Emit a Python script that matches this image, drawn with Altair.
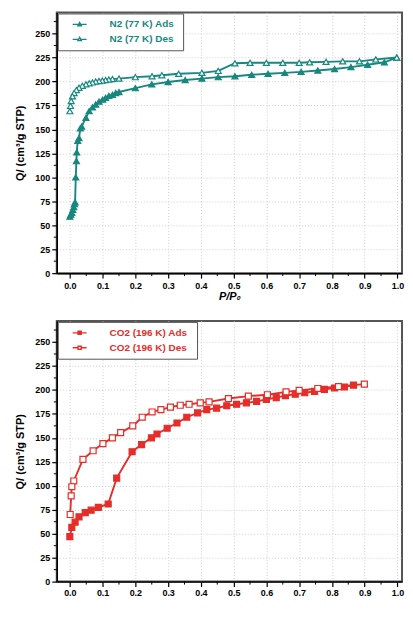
import altair as alt
import pandas as pd

# ---------------- data ----------------
n2_labels = ["N2 (77 K)  Ads", "N2 (77 K) Des"]
n2_ads_x = [0.0, 0.003, 0.006, 0.009, 0.012, 0.014, 0.016, 0.018, 0.020, 0.021, 0.024, 0.028,
            0.032, 0.036, 0.049, 0.059, 0.069, 0.079, 0.089, 0.100, 0.109, 0.119, 0.130, 0.140,
            0.150, 0.200, 0.250, 0.300, 0.352, 0.403, 0.453, 0.504, 0.555, 0.605, 0.656, 0.706,
            0.757, 0.808, 0.858, 0.909, 0.960, 0.998]
n2_ads_y = [59, 61, 63, 66, 69, 72, 74, 100, 117, 126, 138, 141,
            151, 153, 162, 169, 173, 176, 179, 181, 183, 185, 186, 188,
            189, 193, 197, 199.5, 201.5, 203, 204.5, 205.5, 207, 208, 209, 210,
            211.5, 213, 215, 217.5, 220, 225]
n2_des_x = [0.998, 0.934, 0.884, 0.833, 0.782, 0.732, 0.700, 0.650, 0.600, 0.550, 0.504, 0.453,
            0.403, 0.332, 0.281, 0.251, 0.200, 0.150, 0.130, 0.119, 0.109, 0.099, 0.089, 0.079,
            0.069, 0.059, 0.049, 0.038, 0.028, 0.020, 0.013, 0.008, 0.004, 0.002, 0.0]
n2_des_y = [225, 223, 221, 221, 220.5, 220, 219.5, 219.5, 219.5, 219.5, 219, 211,
            209, 208, 206.5, 205.5, 204.5, 203, 202.5, 202, 201.5, 201, 200.5, 200,
            199, 198, 197, 195.5, 193.5, 191, 188, 184.5, 179.5, 174.5, 169]

co2_labels = ["CO2 (196 K)  Ads", "CO2 (196 K)  Des"]
co2_ads_x = [0.0, 0.006, 0.016, 0.028, 0.047, 0.065, 0.087, 0.117, 0.143, 0.190, 0.219, 0.249,
             0.266, 0.297, 0.327, 0.357, 0.390, 0.418, 0.448, 0.479, 0.509, 0.539, 0.570, 0.600,
             0.630, 0.658, 0.688, 0.717, 0.747, 0.777, 0.808, 0.838, 0.866]
co2_ads_y = [47, 56.5, 62, 67.5, 72, 74.5, 77.5, 81, 108, 135.5, 143, 150,
             154, 160, 165.5, 171.5, 176, 179.5, 181, 183.5, 185, 186.5, 188, 190,
             192, 194, 195.5, 197, 198.5, 200.5, 202, 203, 205]
co2_des_x = [0.899, 0.820, 0.757, 0.700, 0.660, 0.603, 0.545, 0.484, 0.425, 0.398, 0.364, 0.337,
             0.307, 0.278, 0.251, 0.221, 0.192, 0.155, 0.130, 0.101, 0.071, 0.040, 0.012, 0.006,
             0.004, 0.001]
co2_des_y = [206, 203.5, 201.5, 199.5, 198, 195, 193.5, 191, 187.5, 186.5, 185, 184,
             182, 179.5, 177, 171.5, 162.5, 155.5, 150, 144, 136.5, 127.5, 105, 99,
             89.5, 70]

x_ticks = [0.0, 0.1, 0.2, 0.3, 0.4, 0.5, 0.6, 0.7, 0.8, 0.9, 1.0]
y_ticks = [0, 25, 50, 75, 100, 125, 150, 175, 200, 225, 250]
x_minor = [0.05, 0.15, 0.25, 0.35, 0.45, 0.55, 0.65, 0.75, 0.85, 0.95]
y_minor = [12.5, 37.5, 62.5, 87.5, 112.5, 137.5, 162.5, 187.5, 212.5, 237.5, 262.5]

TEAL = "#17877f"
RED = "#e52d29"
FONT = "Liberation Sans"
W, H = 347, 262

TRI_PATH = "M-2,0H-0.5M0.5,0H2M0,-0.55L0.5,0.38L-0.5,0.38Z"
SQ_PATH = "M-2,0H-0.45M0.45,0H2M-0.45,-0.45H0.45V0.45H-0.45Z"


def make_df(ax, ay, dx, dy, labels):
    a = pd.DataFrame({"p": ax, "q": ay, "series": labels[0]})
    d = pd.DataFrame({"p": dx, "q": dy, "series": labels[1]})
    return pd.concat([a, d], ignore_index=True)


def panel(df, labels, color, marker, sym_path, x_label_pad):
    xs = alt.Scale(domain=[-0.04, 1.014], nice=False, zero=False)
    ys = alt.Scale(domain=[0, 272], nice=False)
    xaxis = alt.Axis(values=x_ticks, format=".1f", title="P/P₀", titleFontStyle="italic",
                     titlePadding=0, labelPadding=x_label_pad)
    yaxis = alt.Axis(values=y_ticks, title="Q/ (cm³/g STP)")
    legend = alt.Legend(
        title=None, orient="top-left", offset=1, padding=6, rowPadding=5,
        symbolType=sym_path, symbolSize=49, symbolStrokeWidth=1.4,
        symbolStrokeColor=color, symbolOffset=11, labelOffset=25,
        labelColor=color, labelFont=FONT, labelFontSize=10, labelFontWeight="bold",
        strokeColor="#555", fillColor="white", cornerRadius=0,
    )
    sfill = alt.Scale(domain=labels, range=[color, "white"])

    base = alt.Chart(df)
    line = base.mark_line(strokeWidth=1.9, color=color).encode(
        x=alt.X("p:Q", scale=xs, axis=xaxis),
        y=alt.Y("q:Q", scale=ys, axis=yaxis),
        detail="series:N",
    )
    pts = base.mark_point(shape=marker, size=36, strokeWidth=1.2, opacity=1, filled=True,
                          stroke=color).encode(
        x=alt.X("p:Q", scale=xs, axis=xaxis),
        y=alt.Y("q:Q", scale=ys, axis=yaxis),
        fill=alt.Fill("series:N", scale=sfill, legend=legend),
    )
    xm = alt.Chart(pd.DataFrame({"v": x_minor})).mark_rule(color="black", strokeWidth=1).encode(
        x=alt.X("v:Q", scale=xs, axis=xaxis), y=alt.value(H), y2=alt.value(H + 3))
    ym = alt.Chart(pd.DataFrame({"v": y_minor})).mark_rule(color="black", strokeWidth=1).encode(
        y=alt.Y("v:Q", scale=ys, axis=yaxis), x=alt.value(0), x2=alt.value(-3))
    return alt.layer(line, pts, xm, ym).properties(width=W, height=H)


top = panel(make_df(n2_ads_x, n2_ads_y, n2_des_x, n2_des_y, n2_labels), n2_labels, TEAL,
            "triangle-up", TRI_PATH, 3)
bottom = panel(make_df(co2_ads_x, co2_ads_y, co2_des_x, co2_des_y, co2_labels), co2_labels, RED,
               "square", SQ_PATH, 2)

chart = alt.vconcat(top, bottom, spacing=18).resolve_scale(
    fill="independent"
).resolve_legend(fill="independent").properties(
    padding={"left": 5, "top": 2, "right": 0, "bottom": -13}, background="white"
).configure_view(
    stroke="#555", strokeWidth=2
).configure_axis(
    labelFont=FONT, labelFontSize=9, labelFontWeight="bold", labelColor="black",
    titleFont=FONT, titleFontSize=11, titleFontWeight="bold", titleColor="black",
    domainColor="black", domainWidth=1.5, tickColor="black", tickSize=5, tickWidth=1.2,
    labelPadding=2, grid=True, gridColor="#d4cccc", gridDash=[1, 2], gridWidth=1,
).configure_axisY(titlePadding=9)

chart.save("out.html", embed_options={"renderer": "svg", "actions": False})
